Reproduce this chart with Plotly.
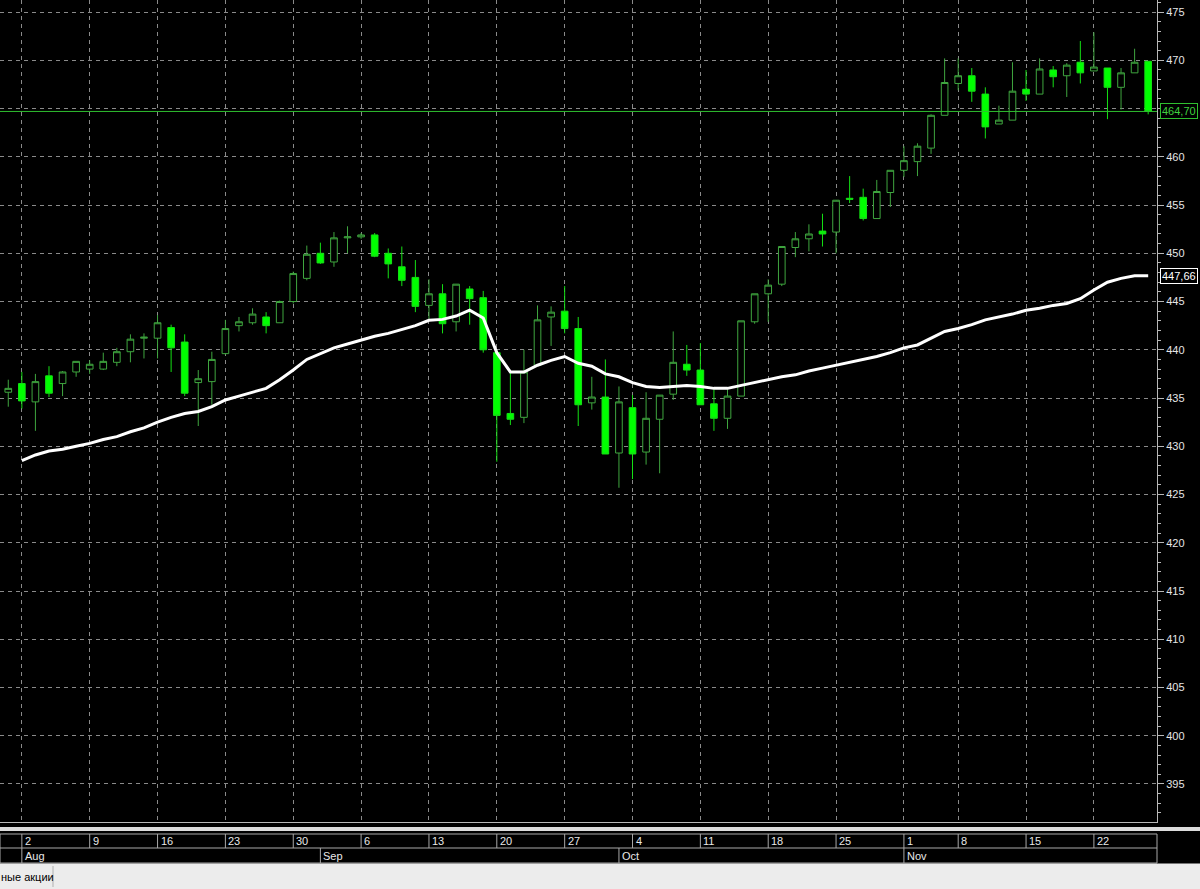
import pandas as pd
import plotly.graph_objects as go

# ---------------- data ----------------
dates = [d.strftime("%Y-%m-%d") for d in pd.bdate_range("2021-07-30", "2021-11-26") if d.strftime("%Y-%m-%d") != "2021-11-04"]

open_ = [435.6, 436.5, 434.6, 437.3, 436.5, 437.7, 438.0, 438.0, 438.7, 439.8,
         441.2, 441.2, 442.3, 440.8, 436.6, 436.7, 439.6, 442.5, 442.8, 443.4,
         442.8, 445.0, 447.4, 450.0, 449.1, 451.6, 451.7, 451.9, 450.0, 448.6,
         447.5, 444.6, 445.8, 442.9, 446.3, 445.4, 439.7, 433.4, 433.0, 438.4,
         443.4, 444.0, 442.2, 434.5, 435.1, 429.3, 434.0, 429.4, 432.8, 435.4,
         438.5, 437.9, 434.4, 432.9, 435.2, 442.9, 445.8, 446.8, 450.6, 451.5,
         452.3, 452.2, 455.7, 455.8, 453.6, 456.3, 458.6, 459.5, 460.9, 464.3,
         467.6, 468.4, 466.5, 463.4, 463.8, 467.0, 466.5, 469.0, 468.4, 469.8,
         468.9, 469.2, 467.2, 468.7, 469.9]
high = [436.9, 437.7, 437.5, 438.3, 437.8, 438.8, 438.9, 439.7, 440.2, 441.6,
        441.7, 443.6, 442.6, 441.6, 437.9, 439.8, 443.1, 443.4, 444.3, 443.9,
        445.1, 448.1, 450.8, 451.1, 452.2, 452.8, 452.1, 452.1, 450.5, 450.7,
        449.3, 447.3, 446.8, 446.8, 446.6, 446.1, 439.7, 437.7, 440.0, 444.6,
        444.5, 446.6, 443.4, 437.2, 439.0, 436.2, 435.3, 435.6, 435.3, 441.9,
        440.5, 440.7, 435.9, 435.9, 443.0, 445.8, 447.3, 450.7, 452.2, 453.0,
        454.1, 455.5, 458.0, 456.7, 457.6, 458.6, 461.1, 461.4, 464.4, 470.2,
        470.2, 469.2, 467.2, 465.3, 469.8, 469.0, 470.2, 469.4, 469.7, 472.0,
        472.9, 469.2, 469.2, 471.2, 469.9]
low = [434.1, 433.9, 431.6, 435.1, 435.2, 437.2, 437.5, 437.9, 438.3, 438.7,
       439.1, 439.1, 437.7, 435.2, 432.1, 434.3, 439.5, 441.9, 442.6, 441.7,
       442.8, 444.8, 447.2, 448.9, 448.6, 450.0, 451.5, 449.6, 447.4, 446.6,
       443.9, 443.1, 441.7, 441.9, 442.6, 439.7, 428.4, 432.2, 432.4, 438.3,
       440.4, 441.7, 432.1, 433.8, 429.2, 425.7, 426.6, 428.1, 427.2, 434.8,
       437.3, 434.3, 431.6, 431.8, 435.2, 442.7, 442.9, 446.6, 449.6, 450.2,
       450.7, 450.0, 455.2, 453.4, 453.6, 454.8, 457.9, 458.0, 460.3, 464.3,
       466.9, 465.7, 461.9, 463.4, 463.8, 465.8, 466.5, 467.2, 466.2, 467.6,
       468.9, 463.9, 464.9, 468.7, 464.4]
close = [436.0, 434.7, 436.7, 435.5, 437.7, 438.8, 438.5, 438.8, 439.8, 441.1,
         441.3, 442.8, 440.2, 435.5, 437.0, 439.0, 442.2, 442.9, 443.7, 442.5,
         445.0, 447.9, 449.9, 449.0, 451.6, 451.7, 451.9, 449.7, 448.9, 447.2,
         444.5, 445.8, 442.7, 446.8, 445.3, 440.0, 433.2, 432.8, 437.7, 443.1,
         443.9, 442.2, 434.3, 435.1, 429.2, 434.6, 429.2, 432.9, 435.3, 438.7,
         437.9, 434.3, 432.9, 435.2, 443.0, 445.8, 446.7, 450.7, 451.5, 452.0,
         452.0, 455.5, 455.6, 453.6, 456.4, 458.6, 459.6, 461.1, 464.3, 467.7,
         468.4, 466.8, 463.1, 463.8, 466.8, 466.5, 469.1, 468.3, 469.5, 468.7,
         469.3, 467.2, 468.7, 469.8, 464.7]
ma = [None, 428.5, 429.1, 429.5, 429.7, 430.0, 430.3, 430.7, 431.0, 431.5,
      431.9, 432.5, 433.0, 433.4, 433.6, 434.1, 434.8, 435.2, 435.6, 436.0,
      436.9, 437.9, 439.0, 439.6, 440.2, 440.6, 441.0, 441.4, 441.7, 442.1,
      442.5, 443.05, 443.15, 443.5, 444.1, 443.3, 439.7, 437.7, 437.7, 438.4,
      438.9, 439.3, 438.6, 438.3, 437.5, 437.2, 436.6, 436.2, 436.1, 436.2,
      436.3, 436.2, 436.0, 436.0, 436.3, 436.6, 436.9, 437.2, 437.4, 437.8,
      438.1, 438.4, 438.7, 439.0, 439.3, 439.7, 440.2, 440.5, 441.2, 441.9,
      442.2, 442.6, 443.1, 443.4, 443.7, 444.1, 444.3, 444.6, 444.8, 445.3,
      446.2, 447.0, 447.4, 447.66, 447.66]

price_ticks = [395, 400, 405, 410, 415, 420, 425, 430, 435, 440, 445, 450, 455, 460, 465, 470, 475]
# 465 is hidden behind the last-price tag in the original
price_tick_labels = ["395", "400", "405", "410", "415", "420", "425", "430", "435", "440",
                     "445", "450", "455", "460", "", "470", "475"]
day_tick_dates = ["2021-08-02", "2021-08-09", "2021-08-16", "2021-08-23", "2021-08-30",
                  "2021-09-06", "2021-09-13", "2021-09-20", "2021-09-27", "2021-10-04",
                  "2021-10-11", "2021-10-18", "2021-10-25", "2021-11-01", "2021-11-08",
                  "2021-11-15", "2021-11-22"]
day_tick_labels = ["2", "9", "16", "23", "30", "6", "13", "20", "27", "4",
                   "11", "18", "25", "1", "8", "15", "22"]
month_tick_dates = ["2021-08-02", "2021-09-01", "2021-10-01", "2021-11-01"]
month_tick_labels = ["Aug", "Sep", "Oct", "Nov"]
status_text = "ные акции"

# ---------------- figure ----------------
W, H = 1200, 889
plot_w, plot_h = 1157, 822

def py(pix):  # pixel row (from top) -> paper y
    return (plot_h - pix) / plot_h

GRID = "#8a8a8a"
AXIS = "#b8b8b8"
FONT = "Liberation Sans, Arial"

fig = go.Figure()
fig.add_trace(go.Candlestick(
    x=dates, open=open_, high=high, low=low, close=close,
    increasing=dict(line=dict(color="#3fa63f", width=1), fillcolor="#000000"),
    decreasing=dict(line=dict(color="#14e014", width=1), fillcolor="#00ff00"),
    whiskerwidth=0, showlegend=False, hoverinfo="skip",
))
fig.add_trace(go.Scatter(
    x=dates, y=ma, mode="lines", line=dict(color="#ffffff", width=3),
    showlegend=False, hoverinfo="skip", connectgaps=False,
))

shapes = []
shapes.append(dict(type="line", xref="paper", x0=0, x1=1, yref="y", y0=close[-1], y1=close[-1],
                   line=dict(color="#2fbf2f", width=1), layer="above"))
shapes.append(dict(type="rect", xref="paper", x0=0, x1=W / plot_w, yref="paper",
                   y0=py(827), y1=py(831), fillcolor="#dcdcdc", line=dict(width=0)))
shapes.append(dict(type="rect", xref="paper", x0=0, x1=1, yref="paper",
                   y0=py(834), y1=py(863), fillcolor="#000000", line=dict(color="#a8a8a8", width=1)))
shapes.append(dict(type="line", xref="paper", x0=0, x1=1, yref="paper",
                   y0=py(848), y1=py(848), line=dict(color="#a8a8a8", width=1)))
for d in day_tick_dates:
    shapes.append(dict(type="line", xref="x", x0=d, x1=d, yref="paper",
                       y0=py(834), y1=py(848), line=dict(color="#a8a8a8", width=1)))
for d in month_tick_dates:
    shapes.append(dict(type="line", xref="x", x0=d, x1=d, yref="paper",
                       y0=py(848), y1=py(863), line=dict(color="#a8a8a8", width=1)))
shapes.append(dict(type="rect", xref="paper", x0=0, x1=W / plot_w, yref="paper",
                   y0=py(863.5), y1=py(H + 2), fillcolor="#ececec", line=dict(width=0)))
shapes.append(dict(type="line", xref="paper", x0=53 / plot_w, x1=53 / plot_w, yref="paper",
                   y0=py(866), y1=py(887), line=dict(color="#b0b0b0", width=1)))

annotations = []
for d, t in zip(day_tick_dates, day_tick_labels):
    annotations.append(dict(x=d, xref="x", y=py(841), yref="paper", text=t, showarrow=False,
                            xanchor="left", yanchor="middle", xshift=1,
                            font=dict(family=FONT, size=11, color="#e8e8e8")))
for d, t in zip(month_tick_dates, month_tick_labels):
    annotations.append(dict(x=d, xref="x", y=py(856), yref="paper", text=t, showarrow=False,
                            xanchor="left", yanchor="middle", xshift=1,
                            font=dict(family=FONT, size=11, color="#e8e8e8")))
annotations.append(dict(x=0, xref="paper", y=py(877), yref="paper", text=status_text, showarrow=False,
                        xanchor="left", yanchor="middle", xshift=-1,
                        font=dict(family=FONT, size=11, color="#000000")))
annotations.append(dict(x=1, xref="paper", y=close[-1], yref="y",
                        text=f"{close[-1]:.2f}".replace(".", ","), showarrow=False,
                        xanchor="left", yanchor="middle", xshift=3,
                        bgcolor="#000000", bordercolor="#2fbf2f", borderwidth=1, borderpad=1,
                        font=dict(family=FONT, size=11, color="#3fd03f")))
annotations.append(dict(x=1, xref="paper", y=ma[-1], yref="y",
                        text=f"{ma[-1]:.2f}".replace(".", ","), showarrow=False,
                        xanchor="left", yanchor="middle", xshift=3,
                        bgcolor="#000000", bordercolor="#ffffff", borderwidth=1, borderpad=1,
                        font=dict(family=FONT, size=11, color="#ffffff")))

fig.update_layout(
    width=W, height=H,
    margin=dict(l=0, r=W - plot_w, t=0, b=H - plot_h),
    paper_bgcolor="#000000", plot_bgcolor="#000000",
    hovermode=False, showlegend=False,
    shapes=shapes, annotations=annotations,
    xaxis=dict(type="category", range=[-0.61, 84.65], tickvals=day_tick_dates,
               showticklabels=False, ticks="", showgrid=True, gridcolor=GRID, gridwidth=1,
               griddash="4px,4px", showline=True, linecolor=AXIS, linewidth=1, mirror=False,
               zeroline=False, rangeslider=dict(visible=False), fixedrange=True),
    yaxis=dict(side="right", range=[391.06, 476.25], tickmode="array",
               tickvals=price_ticks, ticktext=price_tick_labels,
               ticks="outside", ticklen=6, tickcolor=AXIS, tickwidth=1,
               showline=True, linecolor=AXIS, linewidth=1,
               showgrid=True, gridcolor=GRID, gridwidth=1, griddash="4px,4px",
               zeroline=False, fixedrange=True,
               minor=dict(dtick=1, ticks="outside", ticklen=3, tickcolor=AXIS, showgrid=False),
               tickfont=dict(family=FONT, size=11, color="#e6e6e6")),
)

fig.write_html("out.html", config={"displayModeBar": False},
               post_script="document.body.style.margin='0px';document.body.style.background='#000';")
